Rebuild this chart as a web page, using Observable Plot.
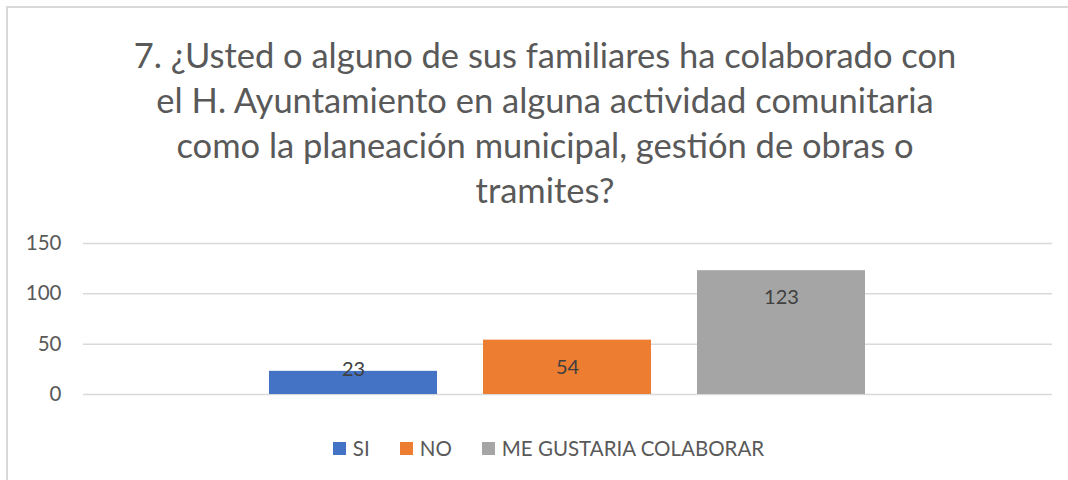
<!DOCTYPE html>
<html>
<head>
<meta charset="utf-8">
<script src="https://cdn.jsdelivr.net/npm/d3@7"></script>
<script src="https://cdn.jsdelivr.net/npm/@observablehq/plot@0.6"></script>
<style>
  html, body { margin: 0; padding: 0; background: #fff; }
  #chart { position: relative; width: 1068px; height: 480px; overflow: hidden; font-family: Lato, "Open Sans", sans-serif; color: #595959; }
  #frame { position: absolute; left: 6px; top: 6px; right: -10px; bottom: -10px; border-top: 2px solid #D9D9D9; border-left: 2px solid #D9D9D9; }
  #title { position: absolute; left: 0; top: 32px; width: 1090px; text-align: center; font-size: 34.5px; line-height: 45px; color: #595959; }
  #plot { position: absolute; left: 0; top: 225px; }
  #legend { position: absolute; left: 0; top: 436px; width: 1068px; display: flex; justify-content: center; padding-left: 29px; box-sizing: border-box; font-size: 20.5px; color: #595959; }
  .item { display: flex; align-items: center; margin: 0 15px; }
  .sw { width: 13px; height: 13px; margin-right: 7px; }
</style>
</head>
<body>
<div id="chart">
  <div id="frame"></div>
  <div id="title"></div>
  <div id="plot"></div>
  <div id="legend"></div>
</div>
<script>
const titleLines = [
  "7. ¿Usted o alguno de sus familiares ha colaborado con",
  "el H. Ayuntamiento en alguna actividad comunitaria",
  "como la planeación municipal, gestión de obras o",
  "tramites?"
];
const categories = ["SI", "NO", "ME GUSTARIA COLABORAR"];
const values = [23, 54, 123];
const colors = ["#4472C4", "#ED7D31", "#A5A5A5"];
const yTicks = [0, 50, 100, 150];

const data = categories.map((c, i) => ({name: c, value: values[i]}));

document.getElementById("title").innerHTML = titleLines.map(t => `<div>${t}</div>`).join("");

const plot = Plot.plot({
  width: 1068,
  height: 190,
  marginTop: 18,
  marginBottom: 21,
  marginLeft: 83,
  marginRight: 16,
  style: {fontFamily: "Lato, 'Open Sans', sans-serif", fontSize: "20px", color: "#595959", background: "transparent"},
  x: {domain: categories, paddingInner: 0.2145, paddingOuter: 0.866, axis: null},
  y: {domain: [0, 150], label: null},
  color: {domain: categories, range: colors},
  marks: [
    Plot.ruleY(yTicks, {stroke: "#D9D9D9", strokeWidth: 1.5}),
    Plot.axisY({ticks: yTicks, tickSize: 0, tickPadding: 22, fontSize: 20.5, fill: "#595959", label: null}),
    Plot.barY(data, {x: "name", y: "value", fill: "name"}),
    Plot.text(data.filter(d => d.value >= 40), {x: "name", y: "value", text: d => String(d.value), dy: 27, fill: "#404040", fontSize: 20}),
    Plot.text(data.filter(d => d.value < 40), {x: "name", y: "value", text: d => String(d.value), dy: -2, fill: "#404040", fontSize: 20})
  ]
});
document.getElementById("plot").appendChild(plot);

const legend = document.getElementById("legend");
categories.forEach((c, i) => {
  const it = document.createElement("div");
  it.className = "item";
  it.innerHTML = `<div class="sw" style="background:${colors[i]}"></div><span>${c}</span>`;
  legend.appendChild(it);
});
</script>
</body>
</html>
